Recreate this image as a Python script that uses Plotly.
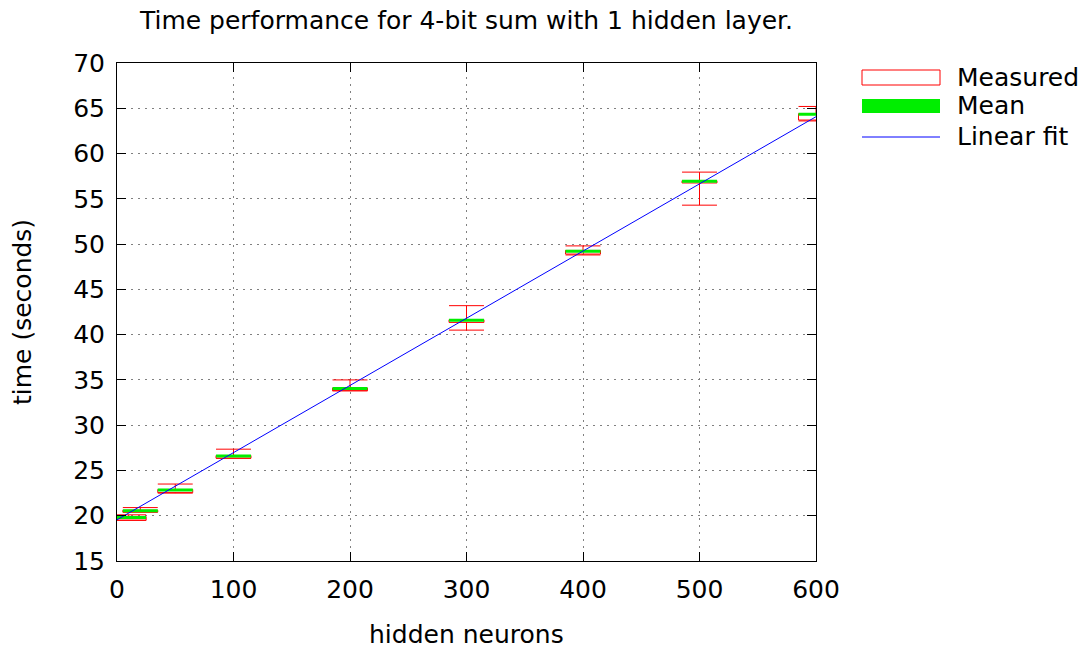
import plotly.graph_objects as go

# Timing measurements per network size
neurons = [10, 20, 50, 100, 200, 300, 400, 500, 600]
t_min = [19.5, 20.4, 22.5, 26.35, 33.8, 40.5, 48.8, 54.3, 63.6]
box_lo = [19.5, 20.4, 22.55, 26.35, 33.8, 41.35, 48.9, 56.75, 63.7]
box_hi = [19.9, 20.6, 22.9, 26.65, 34.1, 41.65, 49.3, 57.0, 64.4]
t_max = [20.1, 20.9, 23.5, 27.35, 35.0, 43.2, 49.8, 57.95, 65.2]
t_mean = [19.8, 20.55, 22.85, 26.6, 34.05, 41.6, 49.2, 56.95, 64.35]

# Linear fit: time = fit_a + fit_b * neurons
fit_a = 19.55
fit_b = 0.0742
fit_x = [0, 600]

x_ticks = [0, 100, 200, 300, 400, 500, 600]
y_ticks = [15, 20, 25, 30, 35, 40, 45, 50, 55, 60, 65, 70]

HALF = 15  # half width of each candlestick, in neuron units
FONT = "DejaVu Sans"
FS = 25
RED = "#ff0000"
GREEN = "#00ee00"
BLUE = "#0000ff"

# Red candlesticks: box, whiskers and whisker bars
rx, ry = [], []
for x, lo, b0, b1, hi in zip(neurons, t_min, box_lo, box_hi, t_max):
    # box outline
    rx += [x - HALF, x + HALF, x + HALF, x - HALF, x - HALF, None]
    ry += [b0, b0, b1, b1, b0, None]
    # whiskers
    rx += [x, x, None, x, x, None]
    ry += [b1, hi, None, b0, lo, None]
    # whisker bars
    rx += [x - HALF, x + HALF, None, x - HALF, x + HALF, None]
    ry += [hi, hi, None, lo, lo, None]

# Green mean bars
gx, gy = [], []
for x, m in zip(neurons, t_mean):
    gx += [x - HALF, x + HALF, None]
    gy += [m, m, None]

fig = go.Figure()
fig.add_trace(go.Scatter(x=rx, y=ry, mode="lines", line=dict(color=RED, width=1),
                         showlegend=False, hoverinfo="skip"))
fig.add_trace(go.Scatter(x=gx, y=gy, mode="lines", line=dict(color=GREEN, width=3),
                         showlegend=False, hoverinfo="skip"))
fig.add_trace(go.Scatter(x=fit_x, y=[fit_a + fit_b * v for v in fit_x], mode="lines",
                         line=dict(color=BLUE, width=1), showlegend=False))

# Plot area in pixels
L, R, T, B = 117, 816, 63, 561
W, H = 1081, 648


def px(xp):
    return (xp - L) / (R - L)


def py(yp):
    return (B - yp) / (B - T)


# Key drawn to the right of the plot
shapes = [
    dict(type="rect", xref="paper", yref="paper", x0=px(862), x1=px(940), y0=py(85), y1=py(70),
         line=dict(color=RED, width=1), fillcolor="rgba(0,0,0,0)"),
    dict(type="rect", xref="paper", yref="paper", x0=px(862), x1=px(940), y0=py(113), y1=py(99),
         line=dict(width=0), fillcolor=GREEN),
    dict(type="line", xref="paper", yref="paper", x0=px(862), x1=px(940), y0=py(137), y1=py(137),
         line=dict(color=BLUE, width=1)),
]
annotations = []
for label, yp in [("Measured", 77), ("Mean", 106), ("Linear fit", 136)]:
    annotations.append(dict(text=label, xref="paper", yref="paper", x=px(955), y=py(yp),
                            xanchor="left", yanchor="middle", showarrow=False,
                            font=dict(family=FONT, size=FS, color="black")))

# Axis titles
annotations.append(dict(text="hidden neurons", xref="paper", yref="paper",
                        x=px((L + R) / 2), y=py(634), xanchor="center", yanchor="middle",
                        showarrow=False, font=dict(family=FONT, size=FS, color="black")))
annotations.append(dict(text="time (seconds)", xref="paper", yref="paper",
                        x=px(22), y=py((T + B) / 2), xanchor="center", yanchor="middle",
                        textangle=-90, showarrow=False,
                        font=dict(family=FONT, size=FS, color="black")))

axis_common = dict(
    showline=True, linecolor="black", linewidth=1, mirror="ticks",
    ticks="inside", ticklen=9, tickcolor="black", tickwidth=1,
    showgrid=True, gridcolor="#808080", gridwidth=1, griddash="2px,5px",
    zeroline=False, tickfont=dict(family=FONT, size=FS, color="black"),
)

fig.update_layout(
    width=W, height=H,
    margin=dict(l=L, r=W - R, t=T, b=H - B),
    plot_bgcolor="white", paper_bgcolor="white",
    showlegend=False,
    title=dict(text="Time performance for 4-bit sum with 1 hidden layer.",
               x=(L + R) / 2 / W, xanchor="center", y=1 - 20 / H, yanchor="middle",
               font=dict(family=FONT, size=FS, color="black")),
    xaxis=dict(range=[0, 600], tickvals=x_ticks, ticklabelstandoff=6, **axis_common),
    yaxis=dict(range=[15, 70], tickvals=y_ticks, ticklabelstandoff=6, **axis_common),
    shapes=shapes,
    annotations=annotations,
)

fig.write_html("out.html")
